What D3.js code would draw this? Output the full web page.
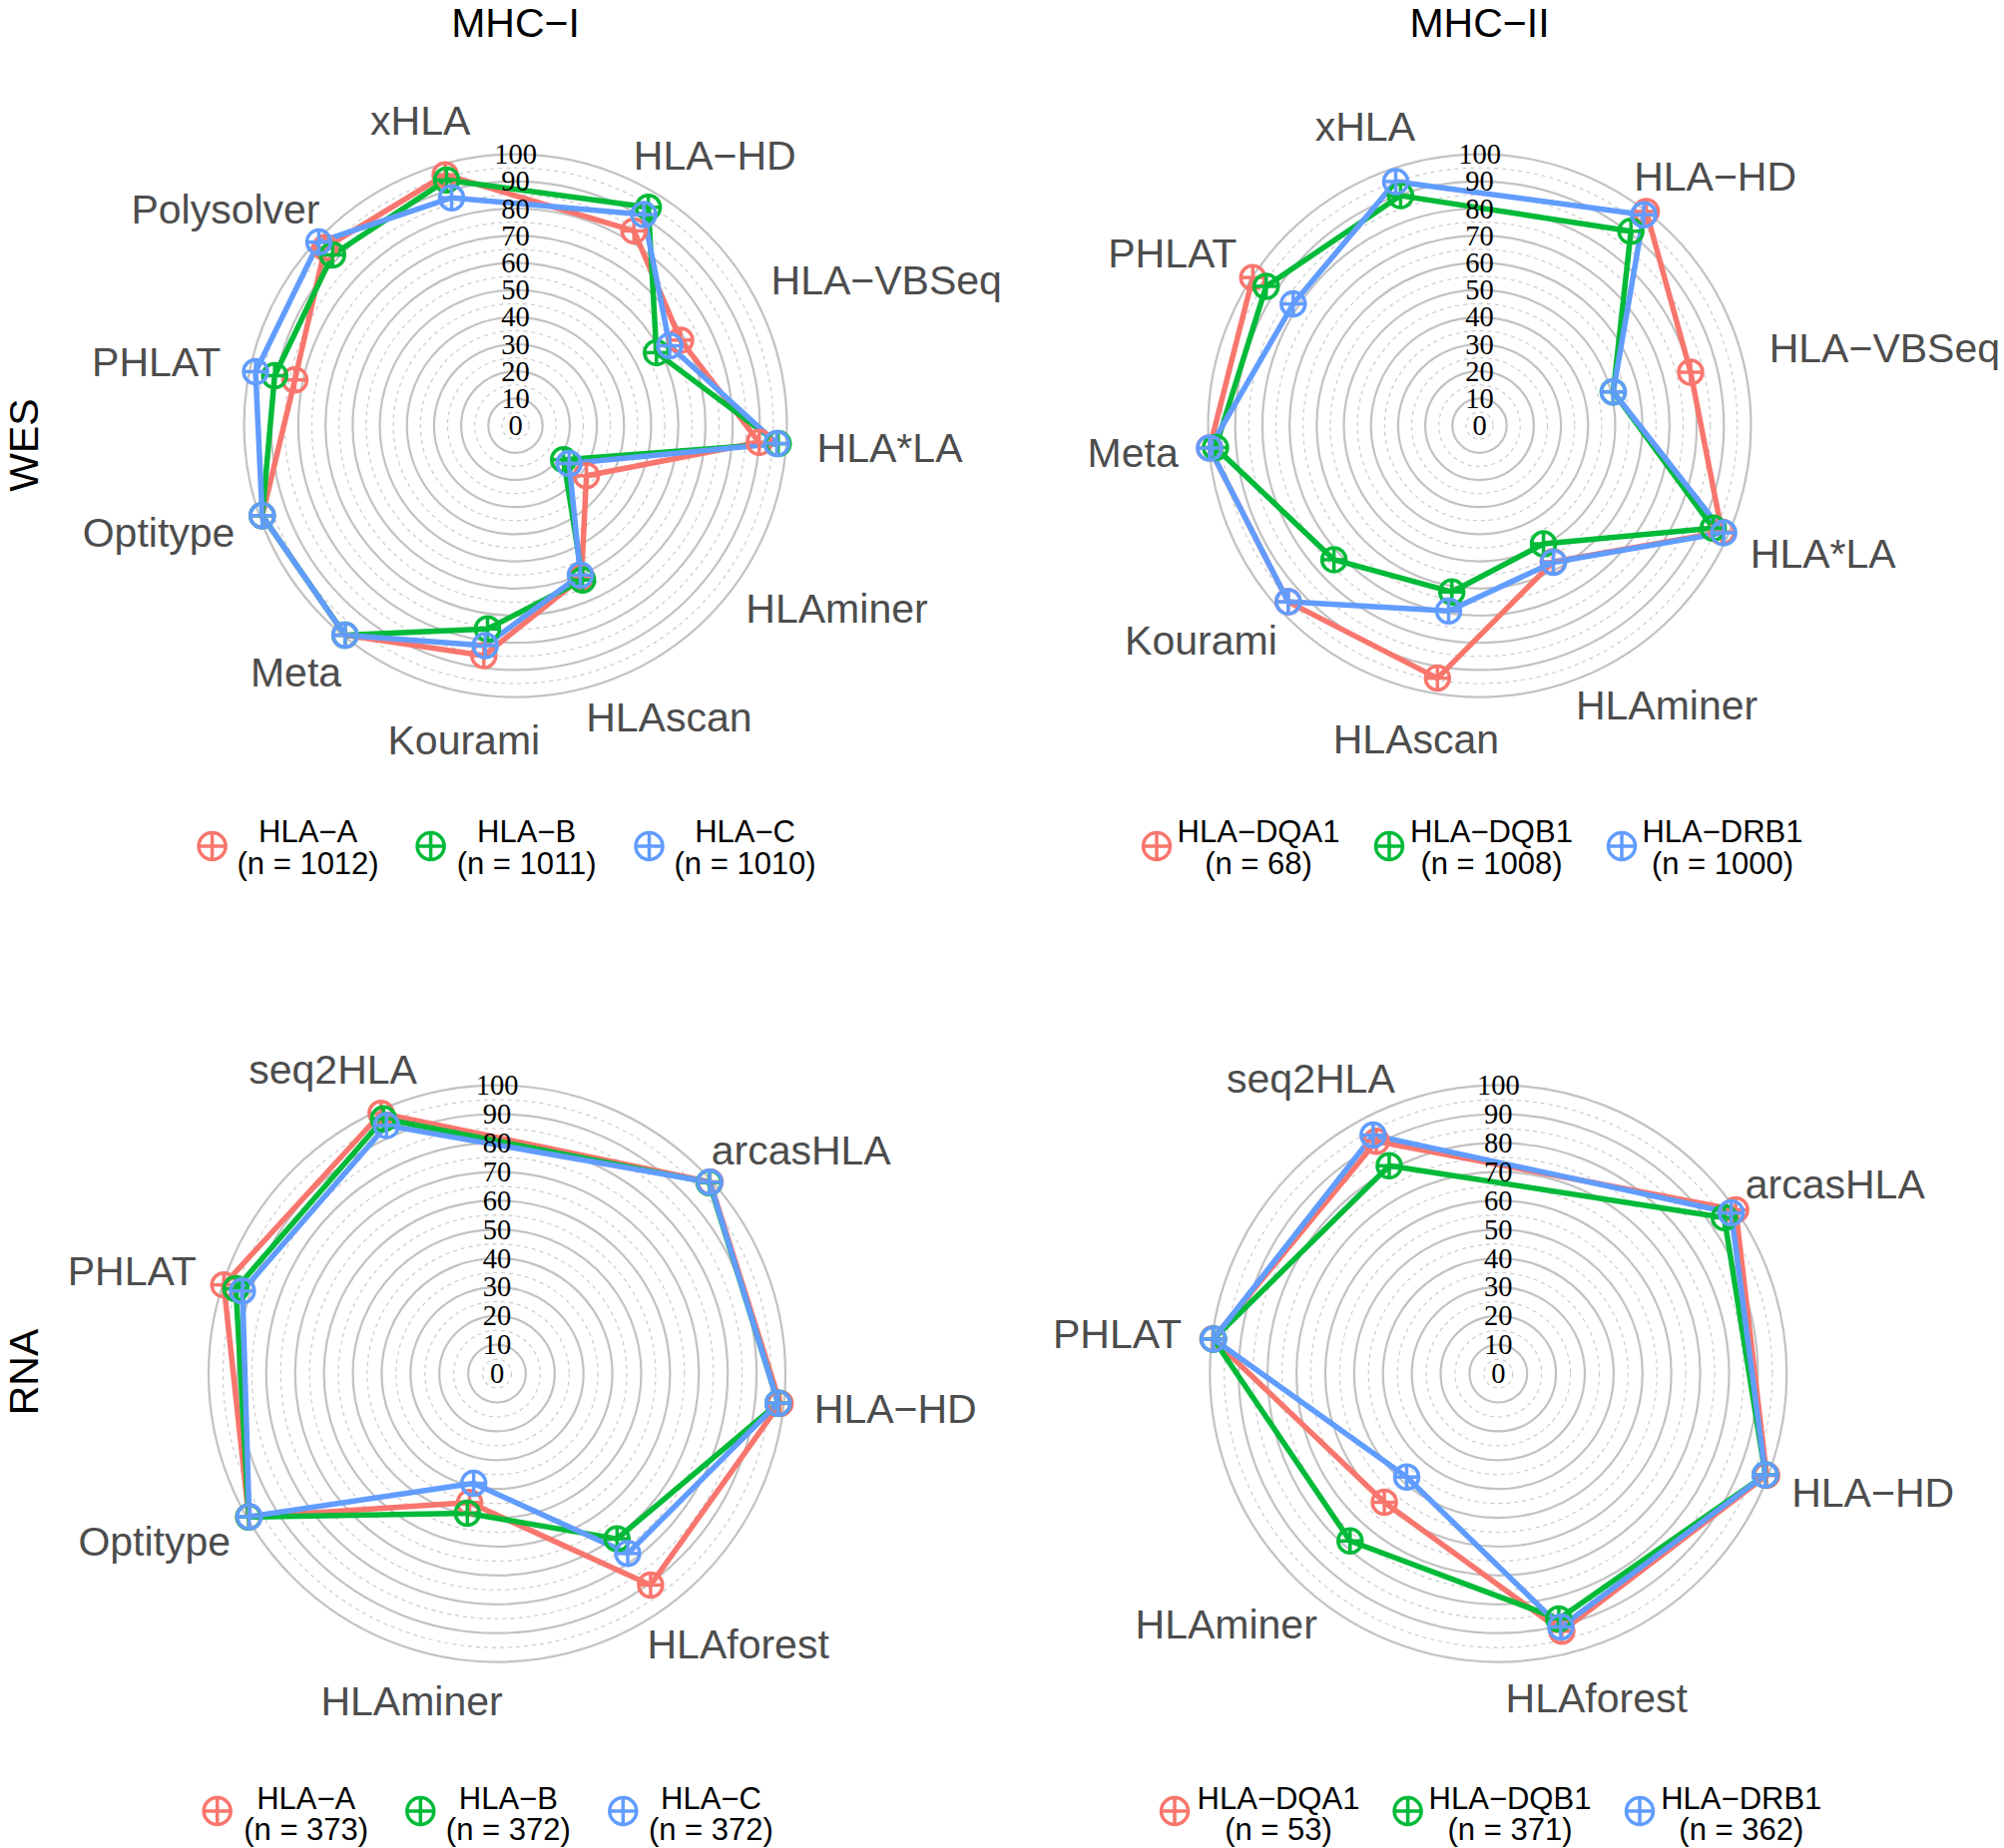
<!DOCTYPE html>
<html><head><meta charset="utf-8">
<script src="https://cdn.jsdelivr.net/npm/d3@7"></script>
<style>body{margin:0;background:#fff} svg{display:block;background:#fff}</style>
</head><body>
<svg id="chart" width="2008" height="1852"></svg>
<script>
// ---------------- data ----------------
const lociColors = ["#F8766D", "#00BA38", "#619CFF"];

// WES, MHC-I
const wesITools = ["HLA−HD", "HLA−VBSeq", "HLA*LA", "HLAminer", "HLAscan", "Kourami", "Meta", "Optitype", "PHLAT", "Polysolver", "xHLA"];
const wesI_A = [84, 68.5, 90, 32, 61, 85.5, 99.5, 99, 83, 96, 96];
const wesI_B = [94.2, 58.5, 97, 21.7, 62, 75.6, 99.5, 99, 90.6, 92.2, 94];
const wesI_C = [91, 64, 96.5, 24.2, 60, 81.8, 99.5, 99, 97.8, 99.1, 87.2];
const wesILoci = ["HLA−A", "HLA−B", "HLA−C"];
const wesIN = [1012, 1011, 1010];

// WES, MHC-II
const wesIITools = ["HLA−HD", "HLA−VBSeq", "HLA*LA", "HLAminer", "HLAscan", "Kourami", "Meta", "PHLAT", "xHLA"];
const wesII_DQA1 = [100, 80.2, 97.5, 57, 94.3, 95.8, 99.8, 99.8, null];
const wesII_DQB1 = [90.8, 50.8, 94, 49.5, 62.1, 72.9, 97.6, 93.9, 89.6];
const wesII_DRB1 = [98.5, 50.8, 98.2, 57.2, 69.2, 95.8, 99.8, 82, 95.1];
const wesIILoci = ["HLA−DQA1", "HLA−DQB1", "HLA−DRB1"];
const wesIIN = [68, 1008, 1000];

// RNA, MHC-I
const rnaITools = ["arcasHLA", "HLA−HD", "HLAforest", "HLAminer", "Optitype", "PHLAT", "seq2HLA"];
const rnaI_A = [99.4, 98.7, 90.6, 45.7, 99.4, 99.6, 98.8];
const rnaI_B = [99, 98, 70.8, 49.5, 99.4, 95.2, 96.7];
const rnaI_C = [99.2, 98, 77.1, 38.9, 99.2, 92.8, 94.2];
const rnaILoci = ["HLA−A", "HLA−B", "HLA−C"];
const rnaIN = [373, 372, 372];

// RNA, MHC-II
const rnaIITools = ["arcasHLA", "HLA−HD", "HLAforest", "HLAminer", "PHLAT", "seq2HLA"];
const rnaII_DQA1 = [100, 99.5, 92, 59.6, 99.7, 91];
const rnaII_DQB1 = [95.2, 99, 87.6, 77.5, 99.5, 81.4];
const rnaII_DRB1 = [98.1, 99, 90.5, 47.9, 99.5, 93.4];
const rnaIILoci = ["HLA−DQA1", "HLA−DQB1", "HLA−DRB1"];
const rnaIIN = [53, 371, 362];

const ringTicks = [0, 10, 20, 30, 40, 50, 60, 70, 80, 90, 100];
const columnTitles = ["MHC−I", "MHC−II"];
const rowTitles = ["WES", "RNA"];

// ---------------- layout ----------------
const panels = [
  {tools: wesITools, series: [wesI_A, wesI_B, wesI_C], loci: wesILoci, counts: wesIN,
   cx: 516.5, cy: 426.6, R: 272,
   keyX: [212.6, 431.6, 650.5], textX: [308.6, 527.6, 746.6], keyY: 848, base1: 844, base2: 876},
  {tools: wesIITools, series: [wesII_DQA1, wesII_DQB1, wesII_DRB1], loci: wesIILoci, counts: wesIIN,
   cx: 1482.5, cy: 426.6, R: 272,
   keyX: [1159, 1392, 1625], textX: [1261, 1494.5, 1726], keyY: 848, base1: 844, base2: 876},
  {tools: rnaITools, series: [rnaI_A, rnaI_B, rnaI_C], loci: rnaILoci, counts: rnaIN,
   cx: 498, cy: 1376.6, R: 289,
   keyX: [217.7, 421.3, 624.3], textX: [306.7, 509.3, 712.4], keyY: 1815, base1: 1812.5, base2: 1844},
  {tools: rnaIITools, series: [rnaII_DQA1, rnaII_DQB1, rnaII_DRB1], loci: rnaIILoci, counts: rnaIIN,
   cx: 1501.3, cy: 1376.6, R: 289,
   keyX: [1177, 1410.6, 1643], textX: [1281, 1513, 1744.8], keyY: 1815, base1: 1812.5, base2: 1844}
];

const SANS = "'Liberation Sans', Arial, Helvetica, sans-serif";
const SERIF = "'Liberation Serif', 'Times New Roman', serif";
const svg = d3.select("#chart");
svg.append("rect").attr("width", 2008).attr("height", 1852).attr("fill", "#fff");

function marker(sel, x, y, rad, color, sw) {
  const m = sel.append("g").attr("transform", `translate(${x},${y})`)
    .attr("stroke", color).attr("stroke-width", sw).attr("fill", "none");
  m.append("circle").attr("r", rad);
  m.append("line").attr("x1", -rad).attr("x2", rad).attr("y1", 0).attr("y2", 0);
  m.append("line").attr("y1", -rad).attr("y2", rad).attr("x1", 0).attr("x2", 0);
}

function drawPanel(p) {
  const g = svg.append("g").attr("transform", `translate(${p.cx},${p.cy})`);
  const r = d3.scaleLinear().domain([0, 100]).range([0, p.R]);
  const n = p.tools.length;
  const ang = d3.scaleLinear().domain([0, n + 0.5]).range([0, 2 * Math.PI]);

  // grid rings
  g.selectAll("circle.minor").data(d3.range(5, 100, 10)).join("circle")
    .attr("class", "minor").attr("r", d => r(d)).attr("fill", "none")
    .attr("stroke", "#C8C8C8").attr("stroke-width", 1.1).attr("stroke-dasharray", "4,4");
  g.selectAll("circle.major").data(ringTicks.filter(d => d > 0)).join("circle")
    .attr("class", "major").attr("r", d => r(d)).attr("fill", "none")
    .attr("stroke", "#C2C2C2").attr("stroke-width", 2.2);

  // axis (tool) labels
  const labR = p.R + 31, fs = 41, capH = 0.716 * fs;
  p.tools.forEach((t, i) => {
    const a = ang(i + 1);
    const ax = labR * Math.sin(a), ay = -labR * Math.cos(a);
    const hj = 0.5 - 0.5 * Math.sin(a), vj = 0.5 - 0.5 * Math.cos(a);
    const txt = g.append("text").text(t).attr("font-family", SANS).attr("font-size", fs)
      .attr("fill", "#4D4D4D").attr("text-anchor", "start");
    const w = txt.node().getComputedTextLength();
    txt.attr("x", ax - hj * w).attr("y", ay + vj * capH);
  });

  // series lines
  const line = d3.lineRadial().angle(d => d.a).radius(d => r(d.v)).defined(d => d.v != null);
  p.series.forEach((vals, si) => {
    const pts = vals.map((v, i) => ({a: ang(i + 1), v: v}));
    g.append("path").attr("d", line(pts.concat([pts[0]])))
      .attr("fill", "none").attr("stroke", lociColors[si]).attr("stroke-width", 5.5)
      .attr("stroke-linejoin", "round");
  });
  // series points
  p.series.forEach((vals, si) => {
    vals.forEach((v, i) => {
      if (v == null) return;
      const a = ang(i + 1);
      marker(g, r(v) * Math.sin(a), -r(v) * Math.cos(a), 12, lociColors[si], 3.5);
    });
  });

  // ring tick labels
  g.selectAll("text.tick").data(ringTicks).join("text").attr("class", "tick")
    .attr("x", 0).attr("y", d => -r(d) + 9.5).attr("text-anchor", "middle")
    .attr("font-family", SERIF).attr("font-size", 28.5).attr("fill", "#000").text(d => d);

  // legend
  p.loci.forEach((l, i) => {
    marker(svg, p.keyX[i], p.keyY, 13.5, lociColors[i], 3.5);
    svg.append("text").attr("x", p.textX[i]).attr("y", p.base1).attr("text-anchor", "middle")
      .attr("font-family", SANS).attr("font-size", 31).attr("fill", "#000").text(l);
    svg.append("text").attr("x", p.textX[i]).attr("y", p.base2).attr("text-anchor", "middle")
      .attr("font-family", SANS).attr("font-size", 31).attr("fill", "#000").text(`(n = ${p.counts[i]})`);
  });
}

panels.forEach(drawPanel);

// column titles
columnTitles.forEach((t, i) => {
  svg.append("text").attr("x", panels[i].cx).attr("y", 37).attr("text-anchor", "middle")
    .attr("font-family", SANS).attr("font-size", 41).attr("fill", "#000").text(t);
});
// row titles
rowTitles.forEach((t, i) => {
  const cy = i === 0 ? 446 : 1375;
  svg.append("text").attr("transform", `translate(38,${cy}) rotate(-90)`).attr("text-anchor", "middle")
    .attr("font-family", SANS).attr("font-size", 41).attr("fill", "#000").text(t);
});
</script>
</body></html>
